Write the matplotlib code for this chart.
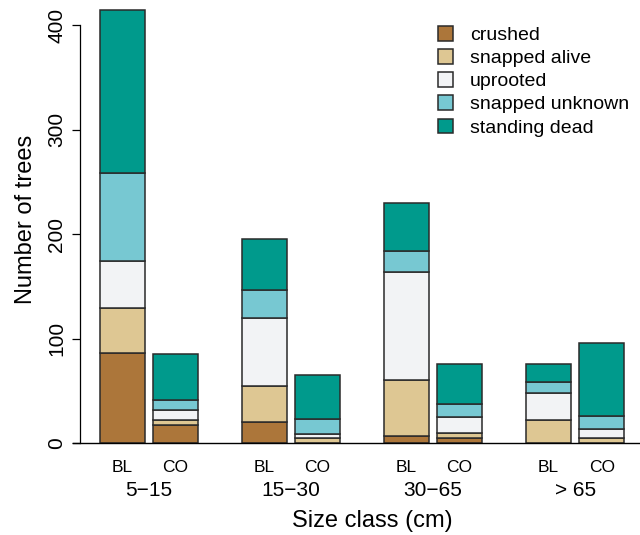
import matplotlib
matplotlib.use("Agg")
import matplotlib.pyplot as plt
from matplotlib.patches import Patch
import numpy as np

plt.rcParams['font.family'] = ['Liberation Sans', 'DejaVu Sans']

# ---- data ----
size_classes = ["5\u221215", "15\u221230", "30\u221265", "> 65"]
forest_types = ["BL", "CO"]
categories = ["crushed", "snapped alive", "uprooted", "snapped unknown", "standing dead"]
# order of bars: 5-15 BL, 5-15 CO, 15-30 BL, 15-30 CO, 30-65 BL, 30-65 CO, >65 BL, >65 CO
crushed         = [86, 17, 20, 0, 7, 5, 0, 0]
snapped_alive   = [43, 5, 35, 5, 53, 5, 22, 5]
uprooted        = [45, 10, 65, 4, 104, 15, 26, 8]
snapped_unknown = [84, 9, 26, 14, 20, 12, 10, 13]
standing_dead   = [156, 44, 49, 42, 46, 39, 18, 70]
yticks = [0, 100, 200, 300, 400]

colors = ["#AC763A", "#DEC793", "#F2F3F5", "#77C8D2", "#009A8C"]
edge = "#2a2a2a"

series = [crushed, snapped_alive, uprooted, snapped_unknown, standing_dead]

fig = plt.figure(figsize=(6.4, 5.35), dpi=100)
W, H = 640, 535
ax_left, ax_right, ax_top, ax_bot = 73, 640, 5, 443
ax = fig.add_axes([ax_left / W, 1 - ax_bot / H, (ax_right - ax_left) / W, (ax_bot - ax_top) / H])

group_step = 2.68
bar_w = 0.85
xpos = []
for g in range(len(size_classes)):
    for f in range(len(forest_types)):
        xpos.append(g * group_step + f)
xpos = np.array(xpos)

bottom = np.zeros(len(xpos))
for vals, c in zip(series, colors):
    v = np.array(vals, dtype=float)
    ax.bar(xpos, v, width=bar_w, bottom=bottom, color=c, edgecolor=edge, linewidth=1.1, zorder=2)
    bottom += v

ax.set_xlim(-0.934, 9.764)
ax.set_ylim(0, (ax_bot - ax_top) / 1.045)

for s in ["top", "right"]:
    ax.spines[s].set_visible(False)
ax.spines["left"].set_position(("axes", 7 / (ax_right - ax_left)))
ax.spines["left"].set_bounds(0, 400)
ax.spines["left"].set_linewidth(0.9)
ax.spines["bottom"].set_linewidth(1.0)
ax.spines["bottom"].set_zorder(3)

ax.set_yticks(yticks)
ax.set_yticklabels([str(t) for t in yticks], rotation=90, va="center", fontsize=15)
ax.tick_params(axis="y", length=6, width=0.9, pad=4)

ax.set_xticks(xpos)
ax.set_xticklabels(forest_types * len(size_classes), fontsize=12.5)
ax.tick_params(axis="x", length=0, pad=12)

for g, name in enumerate(size_classes):
    cx = g * group_step + 0.5
    ax.annotate(name, xy=(cx, 0), xycoords=("data", "axes fraction"),
                xytext=(0, -47 * 0.72), textcoords="offset points",
                ha="center", va="center", fontsize=15)

fig.text(372 / W, 1 - 521 / H, "Size class (cm)", ha="center", va="center", fontsize=17)
fig.text(26 / W, 1 - 219 / H, "Number of trees", ha="center", va="center", rotation=90, fontsize=17)

handles = [Patch(facecolor=c, edgecolor=edge, linewidth=1.1, label=l) for c, l in zip(colors, categories)]
fig.legend(handles=handles, loc="upper left", bbox_to_anchor=(438 / W, 1 - 26 / H),
           frameon=False, fontsize=14, handlelength=0.78, handleheight=0.78,
           handletextpad=0.85, labelspacing=0.26, borderpad=0, borderaxespad=0)

fig.savefig("out.png", dpi=100)
